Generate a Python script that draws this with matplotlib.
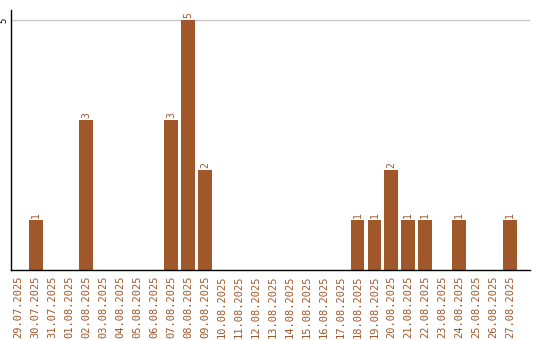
import matplotlib
matplotlib.use("Agg")
import matplotlib.pyplot as plt

dates = ["29.07.2025", "30.07.2025", "31.07.2025", "01.08.2025", "02.08.2025", "03.08.2025",
         "04.08.2025", "05.08.2025", "06.08.2025", "07.08.2025", "08.08.2025", "09.08.2025",
         "10.08.2025", "11.08.2025", "12.08.2025", "13.08.2025", "14.08.2025", "15.08.2025",
         "16.08.2025", "17.08.2025", "18.08.2025", "19.08.2025", "20.08.2025", "21.08.2025",
         "22.08.2025", "23.08.2025", "24.08.2025", "25.08.2025", "26.08.2025", "27.08.2025"]
values = [0, 1, 0, 0, 3, 0, 0, 0, 0, 3, 5, 2, 0, 0, 0, 0, 0, 0, 0, 0, 1, 1, 2, 1, 1, 0, 1, 0, 0, 1]

color = "#a0572a"
fig = plt.figure(figsize=(5.4, 3.4), dpi=100)
ax = fig.add_axes([11/540, 1 - 270/340, 519/540, 260/340])
x = list(range(len(dates)))
ax.bar(x, values, width=0.82, color=color, zorder=2)
for xi, v in zip(x, values):
    if v > 0:
        ax.text(xi, v + 0.05, str(v), rotation=90, ha="center", va="bottom",
                color=color, fontsize=7, family="DejaVu Sans Mono")
ax.set_xlim(-0.45, 30.18)
ax.set_ylim(0, 5.2)
ax.set_yticks([5])
ax.set_yticklabels(["5"], rotation=90, va="center", ha="center", fontsize=6.5,
                   family="DejaVu Sans Mono")
ax.axhline(5, color="#c8c8c8", lw=1, zorder=1)
ax.set_xticks(x)
ax.set_xticklabels(dates, rotation=90, color=color, fontsize=7.5, family="DejaVu Sans Mono")
ax.tick_params(axis="x", length=0, pad=4)
ax.tick_params(axis="y", length=0, pad=5)
for s in ["top", "right"]:
    ax.spines[s].set_visible(False)
ax.spines["left"].set_linewidth(1)
ax.spines["bottom"].set_linewidth(1)
fig.savefig("out.png", dpi=100)
